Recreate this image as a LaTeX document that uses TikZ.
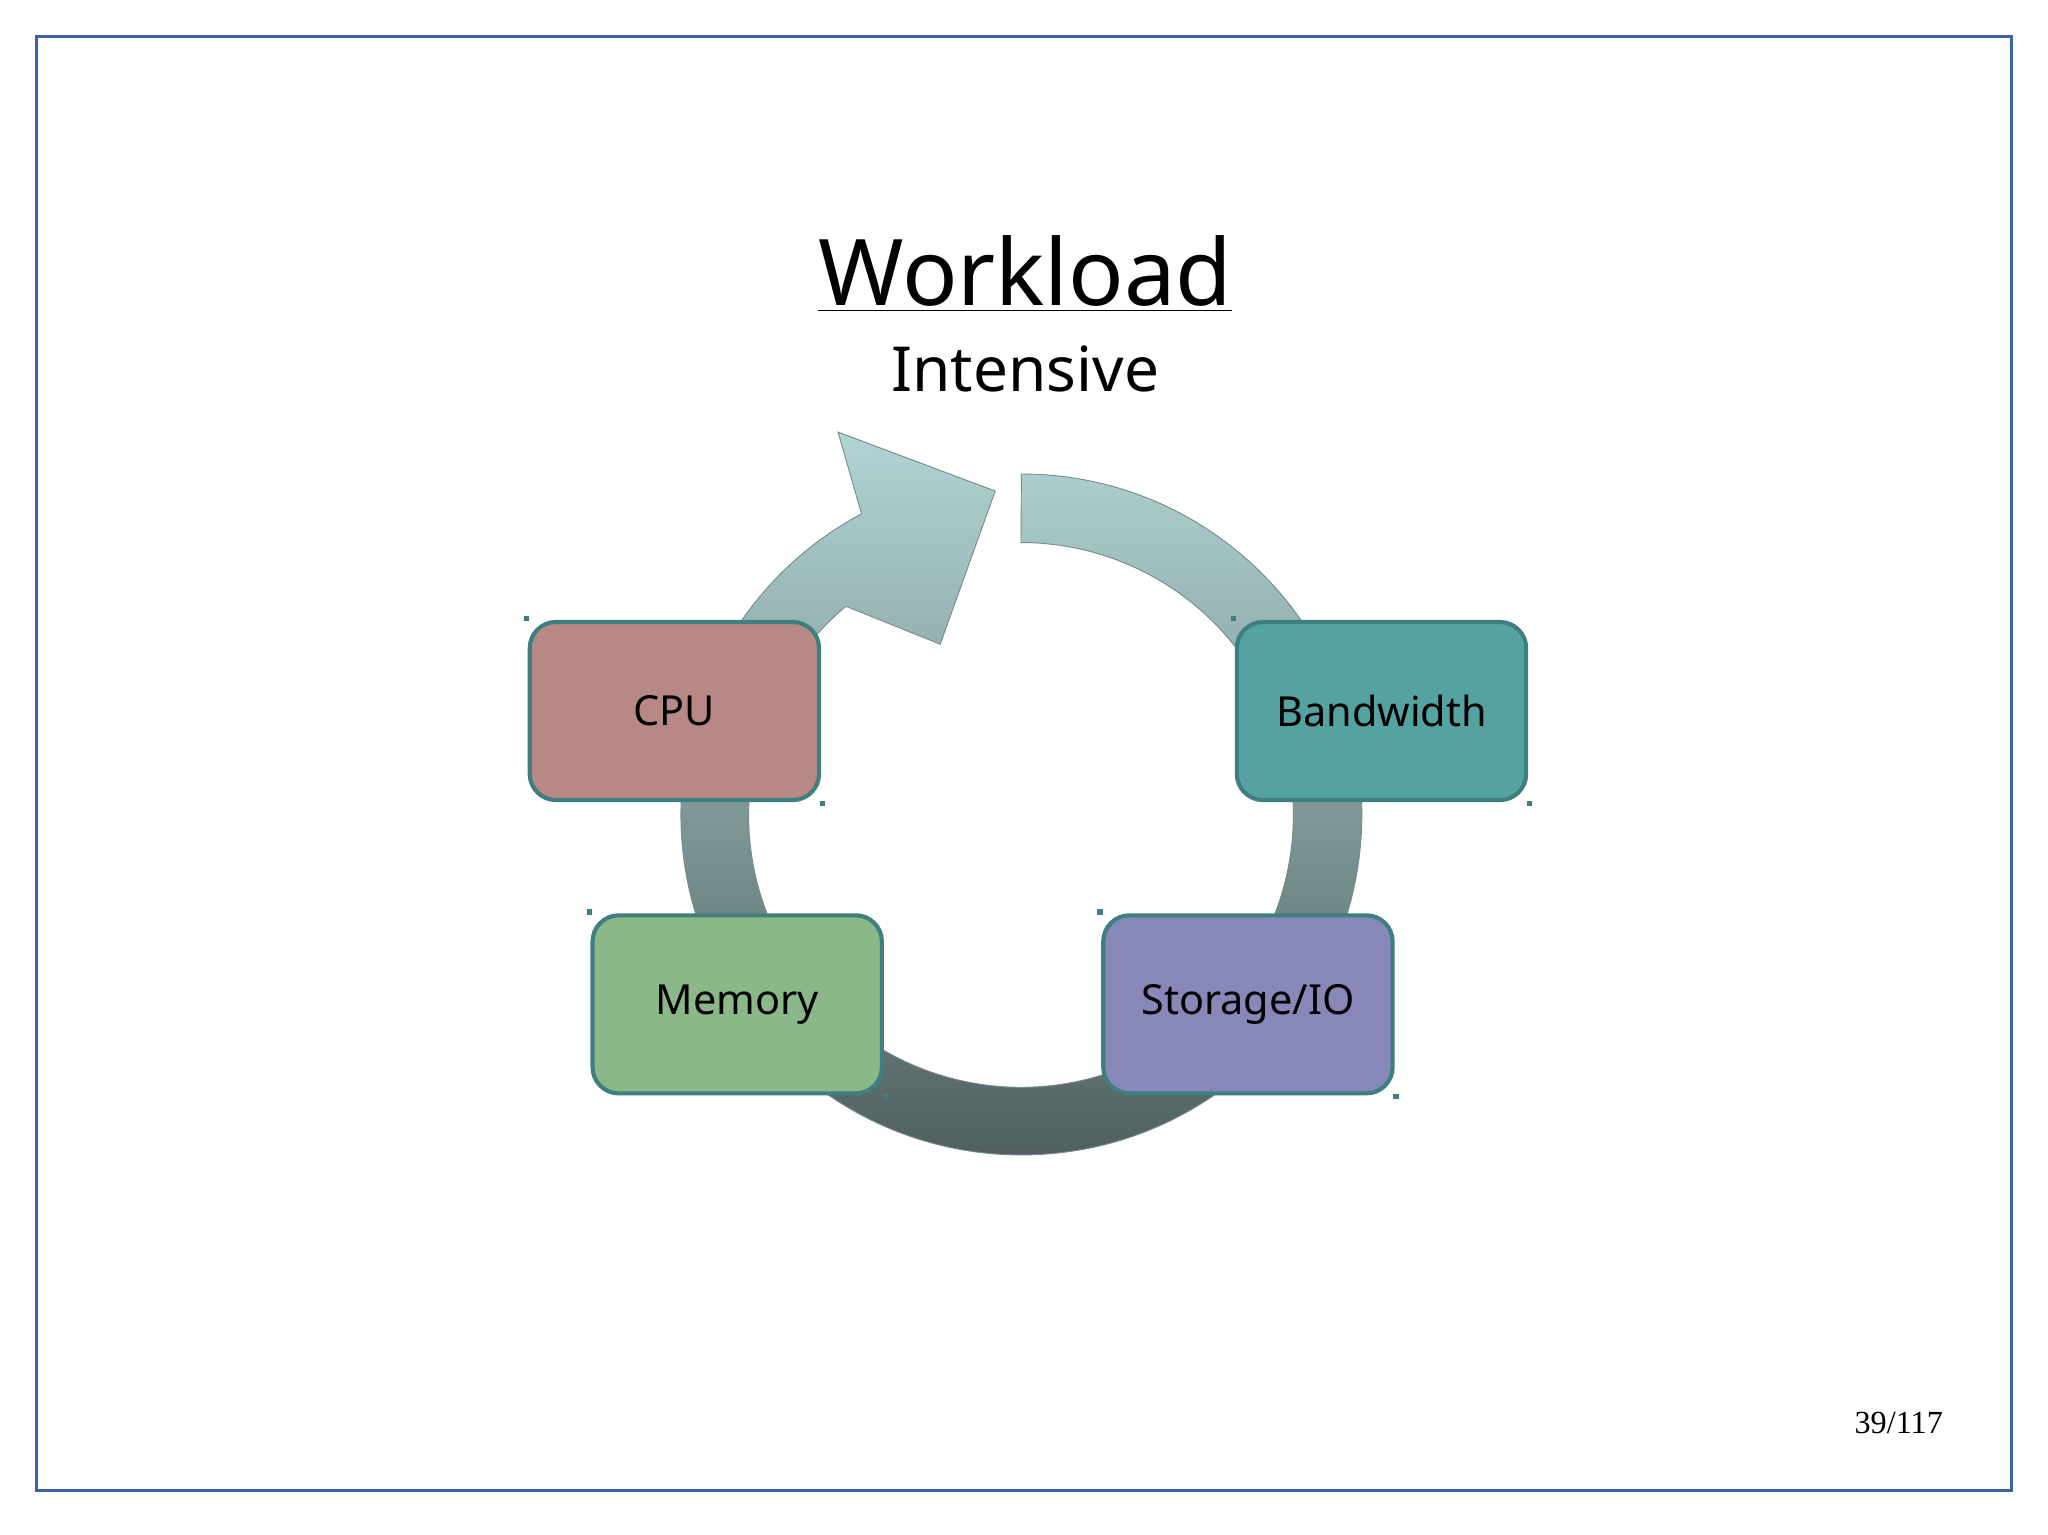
\documentclass[tikz,border=0pt]{standalone}
\usepackage{fontspec}
\setmainfont{Noto Sans}
\newfontfamily\seriff{Liberation Serif}
\begin{document}
\begin{tikzpicture}[x=0.02cm,y=0.02cm,
 box/.style={draw=boxline,line width=1.8pt,rounded corners=0.4cm,minimum width=4.42cm,minimum height=2.72cm,font=\fontsize{18}{22}\selectfont},
 handle/.style={fill=boxline,minimum size=0.08cm,inner sep=0pt}]
\definecolor{boxline}{HTML}{3F7F7F}
\definecolor{frame}{HTML}{3A62A8}
\useasboundingbox (0,0) rectangle (1564,1172);
\fill[white] (0,0) rectangle (1564,1172);
\draw[frame,line width=1.2pt] (28,34) rectangle (1536,1144);
% ring arrow
\shade[top color={rgb,255:red,178;green,212;blue,212},bottom color={rgb,255:red,80;green,96;blue,96},draw={rgb,255:red,120;green,140;blue,140},line width=0.4pt]
 (780,810) arc[start angle=90,end angle=-242,radius=260]
 -- (640,842) -- (760,797) -- (718,680) -- (646,709)
 arc[start angle=-230,end angle=90,radius=208] -- cycle;
% title
\node (title) at (783,963) {\fontsize{40}{46}\selectfont\underline{Workload}};
\node (sub) at (783,890) {\fontsize{27}{32}\selectfont Intensive};
% boxes
\node[box,fill={rgb,255:red,184;green,136;blue,134}] (cpu) at (515,629) {CPU};
\node[box,fill={rgb,255:red,85;green,163;blue,160}] (bw) at (1055,629) {Bandwidth};
\node[box,fill={rgb,255:red,138;green,184;blue,136}] (mem) at (563,405) {Memory};
\node[box,fill={rgb,255:red,136;green,136;blue,184}] (sto) at (953,405) {Storage/IO};
\foreach \n in {cpu,bw,mem,sto}{
 \node[handle] at ([shift={(-1,1)}]\n.north west) {};
 \node[handle] at ([shift={(1,-1)}]\n.south east) {};}
\node (pg) at (1450,85) {\seriff\fontsize{14}{16}\selectfont 39/117};
\end{tikzpicture}
\end{document}
